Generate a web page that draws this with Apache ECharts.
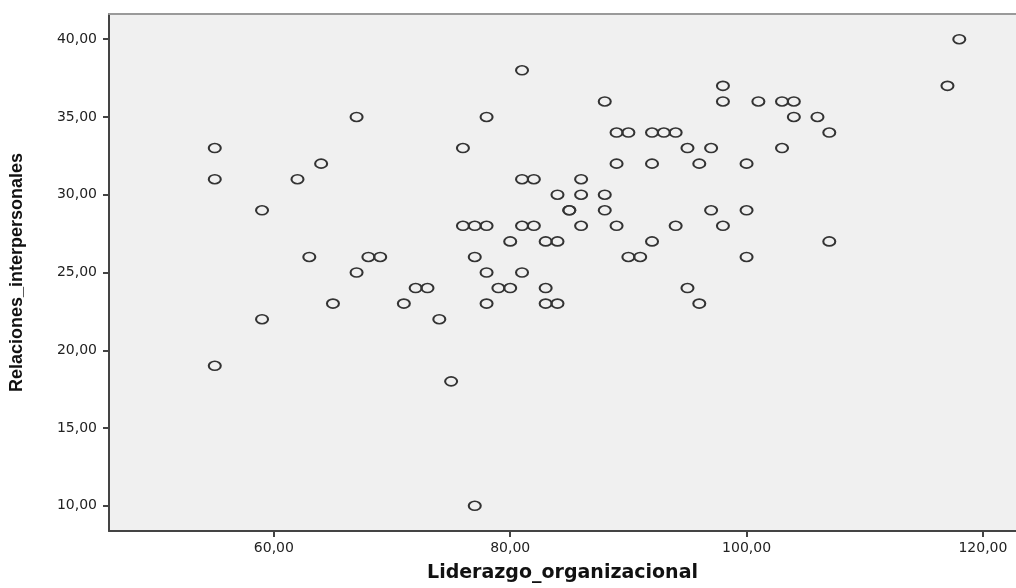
<!DOCTYPE html>
<html>
<head>
<meta charset="utf-8">
<script src="https://cdn.jsdelivr.net/npm/echarts@6/dist/echarts.min.js"></script>
<style>
html,body{margin:0;padding:0;background:#ffffff;}
#chart{width:1016px;height:588px;}
</style>
</head>
<body>
<div id="chart"></div>
<script>
// Liderazgo_organizacional (x) values
const liderazgo = [55,55,55,59,59,62,63,64,65,67,67,68,69,71,72,73,74,75,76,76,77,78,77,78,78,78,79,80,80,81,81,82,81,82,81,83,84,83,83,84,84,85,85,86,86,86,88,88,88,89,89,90,89,90,91,92,93,94,92,92,94,95,95,96,96,97,97,98,98,98,100,100,100,101,103,104,103,104,106,107,107,117,118,77];
// Relaciones_interpersonales (y) values
const relaciones = [33,31,19,29,22,31,26,32,23,35,25,26,26,23,24,24,22,18,33,28,28,28,26,35,25,23,24,24,27,38,31,31,28,28,25,27,27,24,23,23,30,29,29,31,30,28,36,30,29,32,34,34,28,26,26,34,34,34,32,27,28,33,24,32,23,33,29,37,36,28,32,29,26,36,36,36,33,35,35,34,27,37,40,10];
const xTicks = [60,80,100,120];
const yTicks = [10,15,20,25,30,35,40];
const xTitle = 'Liderazgo_organizacional';
const yTitle = 'Relaciones_interpersonales';

const points = liderazgo.map((v,i)=>[v, relaciones[i]]);
const fmt = v => Number(v).toFixed(2).replace('.', ',');

const chart = echarts.init(document.getElementById('chart'), null, {renderer:'canvas'});
chart.setOption({
  animation:false,
  backgroundColor:'#ffffff',
  grid:{left:108, right:0, top:14, bottom:55, show:true, backgroundColor:'#f0f0f0', borderWidth:0},
  xAxis:[{
    type:'value', min:46.05, max:122.8, position:'bottom',
    name:xTitle, nameLocation:'middle', nameGap:33,
    nameTextStyle:{fontFamily:'DejaVu Sans', fontWeight:'bold', fontSize:19, color:'#111'},
    axisLine:{show:true, onZero:false, lineStyle:{color:'#444', width:2}},
    axisTick:{show:true, inside:false, length:6, customValues:xTicks, lineStyle:{color:'#444', width:2}},
    axisLabel:{show:true, margin:10, customValues:xTicks, formatter:fmt, fontFamily:'DejaVu Sans', fontSize:14, color:'#222'},
    splitLine:{show:false}
  },{
    type:'value', min:46.05, max:122.8, position:'top',
    axisLine:{show:true, onZero:false, lineStyle:{color:'#9a9a9a', width:2}},
    axisTick:{show:false}, axisLabel:{show:false}, splitLine:{show:false}
  }],
  yAxis:{
    type:'value', min:8.38, max:41.62,
    name:yTitle, nameLocation:'middle', nameGap:83,
    nameTextStyle:{fontFamily:'Liberation Sans', fontWeight:'bold', fontSize:18, color:'#111'},
    axisLine:{show:true, onZero:false, lineStyle:{color:'#444', width:2}},
    axisTick:{show:true, inside:false, length:6, customValues:yTicks, lineStyle:{color:'#444', width:2}},
    axisLabel:{show:true, margin:12, customValues:yTicks, formatter:fmt, fontFamily:'DejaVu Sans', fontSize:14, color:'#222'},
    splitLine:{show:false}
  },
  series:[{
    type:'scatter', xAxisIndex:0, yAxisIndex:0,
    data:points,
    symbol:'circle', symbolSize:[12,9],
    itemStyle:{color:'rgba(0,0,0,0)', borderColor:'#333', borderWidth:1.8, opacity:1},
    emphasis:{disabled:true}
  }]
});
</script>
</body>
</html>
